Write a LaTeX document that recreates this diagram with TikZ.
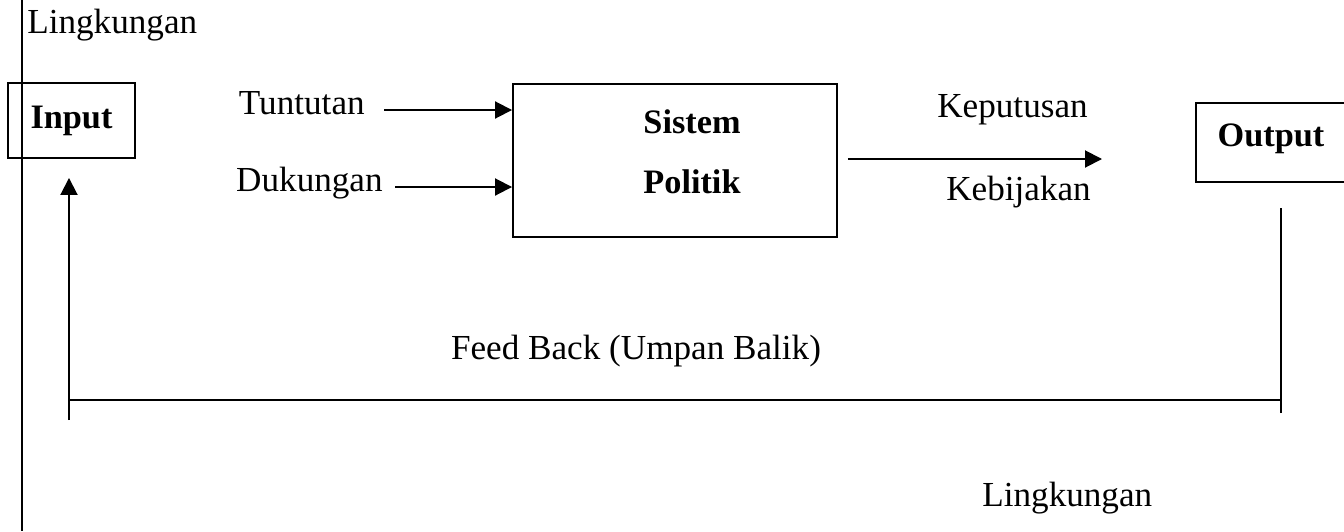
\documentclass[tikz,border=0pt]{standalone}
\usepackage{fontspec}
\setmainfont{Liberation Serif}
\usetikzlibrary{arrows.meta}

\tikzset{
  box/.style={draw, line width=1.1pt, inner sep=0pt},
  lbl/.style={inner sep=0pt, font=\fontsize{20}{24}\selectfont},
  bold/.style={inner sep=0pt, font=\fontsize{19.5}{24}\selectfont\bfseries},
  arr/.style={line width=1.1pt, -{Triangle[length=0.34cm,width=0.34cm]}},
  fb/.style={line width=1.1pt}
}

\begin{document}
\begin{tikzpicture}
  \useasboundingbox (0,0) rectangle (26.88,-10.62);

  % Environment border and labels
  \draw [line width=0.6pt] (0.44,0) -- (0.44,-10.62);
  \node [lbl, anchor=base west] (envtop) at (0.54,-0.66) {Lingkungan};
  \node [lbl, anchor=base west] (envbot) at (19.64,-10.12) {Lingkungan};

  % Boxes
  \node [box, bold, minimum width=2.54cm, minimum height=1.5cm] (input) at (1.43,-2.41) {Input};
  \node [box, minimum width=6.48cm, minimum height=3.06cm] (sp) at (13.5,-3.21) {};
  \node [bold] (sistem) at (13.84,-2.44) {Sistem};
  \node [bold] (politik) at (13.84,-3.64) {Politik};
  \node [box, minimum width=3.4cm, minimum height=1.58cm] (output) at (25.62,-2.85) {};
  \node [bold, anchor=base] (outtxt) at (25.42,-2.92) {Output};

  % Inputs to the system
  \node [lbl, anchor=mid east] (tun) at (7.30,-2.20) {Tuntutan};
  \node [lbl, anchor=mid east] (duk) at (7.66,-3.74) {Dukungan};
  \draw [arr, shorten <=0.38cm] (tun.mid east) -- (sp.west |- tun.mid east);
  \draw [arr, shorten <=0.24cm] (duk.mid east) -- (sp.west |- duk.mid east);

  % Output of the system
  \coordinate (kep) at (22.04,-3.18);
  \draw [arr, shorten <=0.2cm] (sp.east |- kep) -- (kep);
  \node [lbl, anchor=base] (keputusan) at (20.25,-2.34) {Keputusan};
  \node [lbl, anchor=base] (kebijakan) at (20.37,-4.0) {Kebijakan};

  % Feed back loop
  \coordinate (fbl) at (1.38,-8.0);
  \coordinate (fbr) at (25.62,-8.0);
  \draw [fb] (fbl) -- (fbr);
  \draw [arr, shorten >=0.38cm] ([yshift=-0.4cm]fbl) -- (fbl |- input.south);
  \draw [fb, shorten >=0.5cm] ([yshift=-0.26cm]fbr) -- (fbr |- output.south);
  \node [lbl, anchor=base] (feedback) at (12.72,-7.18) {Feed Back (Umpan Balik)};
\end{tikzpicture}
\end{document}
